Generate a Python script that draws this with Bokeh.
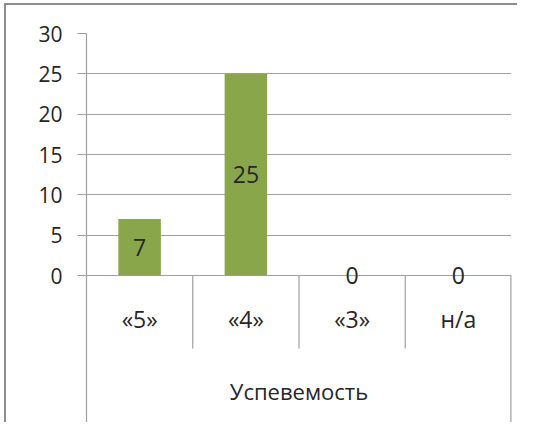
from bokeh.plotting import figure
from bokeh.models import Range1d, FactorRange, FixedTicker, ColumnDataSource, InlineStyleSheet
from bokeh.transform import dodge
from bokeh.core.properties import value
from bokeh.embed import file_html
from bokeh.resources import INLINE

# ---- data ----
categories = ["«5»", "«4»", "«3»", "н/а"]
values = [7, 25, 0, 0]
group_label = "Успевемость"
y_ticks = [0, 5, 10, 15, 20, 25, 30]

# ---- style ----
FONT = "Open Sans"
TICK_FS = "21px"
LBL_FS = "23px"
CAT_FS = "23px"
GRP_FS = "22px"
GRID = "#A0A0A0"
GREEN = "#8AA64B"
TEXT = "#262626"
Y_MIN = -18.22

p = figure(
    x_range=FactorRange(*categories),
    y_range=Range1d(Y_MIN, 30),
    width=517, height=422,
    output_backend="svg", toolbar_location=None,
    min_border_left=86, min_border_right=6, min_border_top=33, min_border_bottom=0,
)
p.outline_line_color = None
p.background_fill_color = "white"
p.border_fill_color = None

# outer chart border: top and left edges drawn as host background lines
p.stylesheets = [InlineStyleSheet(css="""
:host {
  background-color: white;
  background-image: linear-gradient(#8C8C8C, #8C8C8C), linear-gradient(#8C8C8C, #8C8C8C);
  background-size: 2px 100%, 100% 2px;
  background-position: 4px 3px, 4px 3px;
  background-repeat: no-repeat;
}
""")]

p.xaxis.visible = False
p.xgrid.grid_line_color = None

ticker = FixedTicker(ticks=y_ticks)
p.yaxis.ticker = ticker
p.ygrid.ticker = ticker
p.ygrid.grid_line_color = GRID
p.ygrid.grid_line_width = 1.2
p.yaxis.axis_line_color = GRID
p.yaxis.axis_line_width = 1.2
p.yaxis.major_tick_line_color = GRID
p.yaxis.major_tick_line_width = 1.2
p.yaxis.major_tick_out = 9
p.yaxis.major_tick_in = 0
p.yaxis.minor_tick_line_color = None
p.yaxis.major_label_text_font = FONT
p.yaxis.major_label_text_font_size = TICK_FS
p.yaxis.major_label_text_color = TEXT
p.yaxis.major_label_standoff = 15

src = ColumnDataSource(dict(
    cat=categories,
    val=values,
    mid=[v / 2 for v in values],
    lbl=[str(v) for v in values],
))

p.vbar(x="cat", top="val", width=0.4, source=src, fill_color=GREEN, line_color=None)

p.text(x="cat", y="mid", text="lbl", source=src, text_align="center", text_baseline="middle",
       text_font=value(FONT), text_font_size=LBL_FS, text_color=TEXT)

# category labels
cat_src = ColumnDataSource(dict(cat=categories, y=[-5.45] * len(categories)))
p.text(x="cat", y="y", text="cat", source=cat_src, text_align="center", text_baseline="middle",
       text_font=value(FONT), text_font_size=CAT_FS, text_color=TEXT)

# separators between categories
sep_src = ColumnDataSource(dict(cat=categories[1:]))
p.segment(x0=dodge("cat", -0.5, range=p.x_range), y0=0,
          x1=dodge("cat", -0.5, range=p.x_range), y1=-9.05,
          source=sep_src, line_color=GRID, line_width=1.2)

# right outer boundary
end_src = ColumnDataSource(dict(cat=categories[-1:]))
p.segment(x0=dodge("cat", 0.5, range=p.x_range), y0=0,
          x1=dodge("cat", 0.5, range=p.x_range), y1=Y_MIN,
          source=end_src, line_color=GRID, line_width=2.4)

# group label
grp_src = ColumnDataSource(dict(cat=[categories[1]], txt=[group_label]))
p.text(x=dodge("cat", 0.5, range=p.x_range), y=-14.26, text="txt", source=grp_src,
       text_align="center", text_baseline="middle",
       text_font=value(FONT), text_font_size=GRP_FS, text_color=TEXT)

open("out.html", "w").write(file_html(p, INLINE))
